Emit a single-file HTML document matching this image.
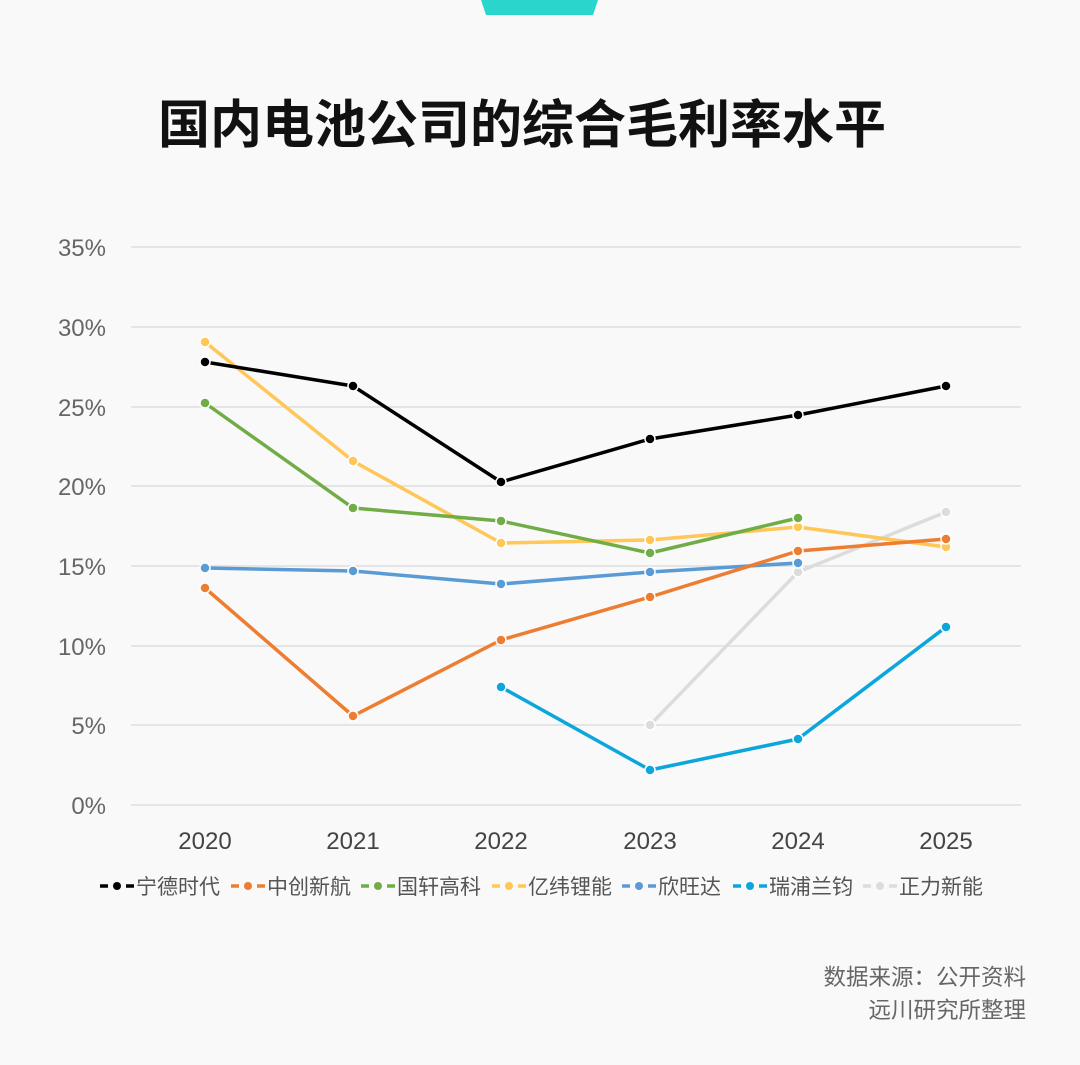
<!DOCTYPE html>
<html><head><meta charset="utf-8"><style>
html,body{margin:0;padding:0;background:#f9f9f9;}
svg{display:block;font-family:"Liberation Sans","Noto Sans CJK SC",sans-serif;}
</style></head><body>
<svg width="1080" height="1065" viewBox="0 0 1080 1065">
<rect width="1080" height="1065" fill="#f9f9f9"/>
<polygon points="481,0 598,0 593,15 486,15" fill="#2ad6cc"/>
<text x="522" y="143" text-anchor="middle" font-size="52" font-weight="bold" fill="#111" font-family="'Noto Sans CJK SC',sans-serif">国内电池公司的综合毛利率水平</text>
<g stroke="#d9d9d9" stroke-width="1.2">
<line x1="131" x2="1021" y1="247" y2="247"/><line x1="131" x2="1021" y1="327" y2="327"/>
<line x1="131" x2="1021" y1="407" y2="407"/><line x1="131" x2="1021" y1="486" y2="486"/>
<line x1="131" x2="1021" y1="566" y2="566"/><line x1="131" x2="1021" y1="646" y2="646"/>
<line x1="131" x2="1021" y1="725" y2="725"/><line x1="131" x2="1021" y1="805" y2="805"/>
</g>
<g font-size="24" fill="#666" text-anchor="end">
<text x="106" y="256">35%</text><text x="106" y="336">30%</text><text x="106" y="416">25%</text>
<text x="106" y="495">20%</text><text x="106" y="575">15%</text><text x="106" y="655">10%</text>
<text x="106" y="734">5%</text><text x="106" y="814">0%</text>
</g>
<g font-size="24" fill="#444" text-anchor="middle">
<text x="205" y="849">2020</text><text x="353" y="849">2021</text><text x="501" y="849">2022</text>
<text x="650" y="849">2023</text><text x="798" y="849">2024</text><text x="946" y="849">2025</text>
</g>
<g fill="none" stroke-width="3.5" stroke-linejoin="round">
<polyline stroke="#dcdcdc" points="650,725 798,572 946,512"/>
<polyline stroke="#0aa6dc" points="501,687 650,770 798,739 946,627"/>
<polyline stroke="#5b9bd5" points="205,568 353,571 501,584 650,572 798,563"/>
<polyline stroke="#ffc658" points="205,342 353,461 501,543 650,540 798,527 946,547"/>
<polyline stroke="#70ad47" points="205,403 353,508 501,521 650,553 798,518"/>
<polyline stroke="#ed7d31" points="205,588 353,716 501,640 650,597 798,551 946,539"/>
<polyline stroke="#000" points="205,362 353,386 501,482 650,439 798,415 946,386"/>
</g>
<g stroke="#fff" stroke-width="1.5">
<g fill="#dcdcdc"><circle cx="650" cy="725" r="5"/><circle cx="798" cy="572" r="5"/><circle cx="946" cy="512" r="5"/></g>
<g fill="#0aa6dc"><circle cx="501" cy="687" r="5"/><circle cx="650" cy="770" r="5"/><circle cx="798" cy="739" r="5"/><circle cx="946" cy="627" r="5"/></g>
<g fill="#5b9bd5"><circle cx="205" cy="568" r="5"/><circle cx="353" cy="571" r="5"/><circle cx="501" cy="584" r="5"/><circle cx="650" cy="572" r="5"/><circle cx="798" cy="563" r="5"/></g>
<g fill="#ffc658"><circle cx="205" cy="342" r="5"/><circle cx="353" cy="461" r="5"/><circle cx="501" cy="543" r="5"/><circle cx="650" cy="540" r="5"/><circle cx="798" cy="527" r="5"/><circle cx="946" cy="547" r="5"/></g>
<g fill="#70ad47"><circle cx="205" cy="403" r="5"/><circle cx="353" cy="508" r="5"/><circle cx="501" cy="521" r="5"/><circle cx="650" cy="553" r="5"/><circle cx="798" cy="518" r="5"/></g>
<g fill="#ed7d31"><circle cx="205" cy="588" r="5"/><circle cx="353" cy="716" r="5"/><circle cx="501" cy="640" r="5"/><circle cx="650" cy="597" r="5"/><circle cx="798" cy="551" r="5"/><circle cx="946" cy="539" r="5"/></g>
<g fill="#000"><circle cx="205" cy="362" r="5"/><circle cx="353" cy="386" r="5"/><circle cx="501" cy="482" r="5"/><circle cx="650" cy="439" r="5"/><circle cx="798" cy="415" r="5"/><circle cx="946" cy="386" r="5"/></g>
</g>
<g font-size="21" fill="#555">
<g transform="translate(100,886)"><path d="M0,0h8M26,0h8" stroke="#000" stroke-width="3.5"/><circle cx="17" cy="0" r="4" fill="#000"/><text x="36" y="8">宁德时代</text></g>
<g transform="translate(231,886)"><path d="M0,0h8M26,0h8" stroke="#ed7d31" stroke-width="3.5"/><circle cx="17" cy="0" r="4" fill="#ed7d31"/><text x="36" y="8">中创新航</text></g>
<g transform="translate(361,886)"><path d="M0,0h8M26,0h8" stroke="#70ad47" stroke-width="3.5"/><circle cx="17" cy="0" r="4" fill="#70ad47"/><text x="36" y="8">国轩高科</text></g>
<g transform="translate(492,886)"><path d="M0,0h8M26,0h8" stroke="#ffc658" stroke-width="3.5"/><circle cx="17" cy="0" r="4" fill="#ffc658"/><text x="36" y="8">亿纬锂能</text></g>
<g transform="translate(622,886)"><path d="M0,0h8M26,0h8" stroke="#5b9bd5" stroke-width="3.5"/><circle cx="17" cy="0" r="4" fill="#5b9bd5"/><text x="36" y="8">欣旺达</text></g>
<g transform="translate(733,886)"><path d="M0,0h8M26,0h8" stroke="#0aa6dc" stroke-width="3.5"/><circle cx="17" cy="0" r="4" fill="#0aa6dc"/><text x="36" y="8">瑞浦兰钧</text></g>
<g transform="translate(863,886)"><path d="M0,0h8M26,0h8" stroke="#dcdcdc" stroke-width="3.5"/><circle cx="17" cy="0" r="4" fill="#dcdcdc"/><text x="36" y="8">正力新能</text></g>
</g>
<g font-size="22.5" fill="#666" text-anchor="end">
<text x="1026" y="985">数据来源：公开资料</text>
<text x="1026" y="1018">远川研究所整理</text>
</g>
</svg>
</body></html>
